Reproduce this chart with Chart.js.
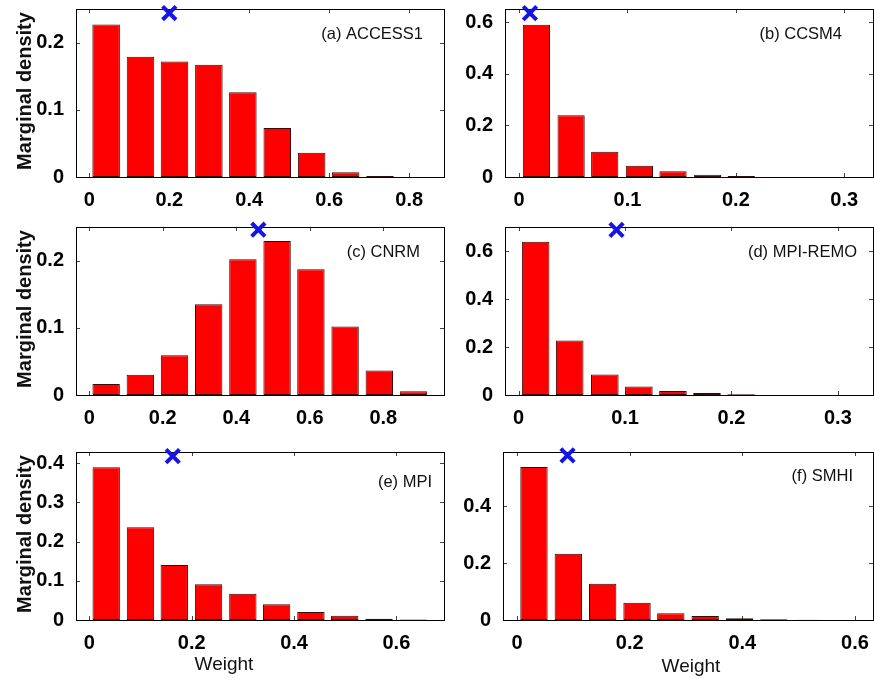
<!DOCTYPE html>
<html>
<head>
<meta charset="utf-8">
<script src="https://cdn.jsdelivr.net/npm/chart.js@4.4.0/dist/chart.umd.min.js"></script>
<style>
  html, body { margin: 0; padding: 0; background: #fff; }
  #figure { position: relative; width: 874px; height: 681px; overflow: hidden; }
  #figure canvas { position: absolute; }
</style>
</head>
<body>
<div id="figure"></div>
<script>
// histogram bin centres (weight) and marginal densities, one pair per model
const accessWeight = [0.042, 0.128, 0.213, 0.299, 0.384, 0.470, 0.556, 0.641, 0.727];
const accessDensity = [0.227, 0.179, 0.172, 0.167, 0.126, 0.073, 0.036, 0.007, 0.0015];

const ccsmWeight = [0.016, 0.048, 0.079, 0.111, 0.142, 0.174, 0.205];
const ccsmDensity = [0.591, 0.240, 0.098, 0.044, 0.022, 0.009, 0.004];

const cnrmWeight = [0.046, 0.139, 0.232, 0.325, 0.418, 0.511, 0.603, 0.696, 0.789, 0.882];
const cnrmDensity = [0.0165, 0.030, 0.059, 0.135, 0.202, 0.229, 0.187, 0.102, 0.0365, 0.0055];

const remoWeight = [0.016, 0.048, 0.081, 0.113, 0.145, 0.177, 0.209];
const remoDensity = [0.639, 0.227, 0.085, 0.035, 0.017, 0.008, 0.003];

const mpiWeight = [0.033, 0.100, 0.166, 0.233, 0.300, 0.366, 0.433, 0.499, 0.566, 0.633];
const mpiDensity = [0.3895, 0.2365, 0.140, 0.091, 0.067, 0.040, 0.0204, 0.011, 0.0033, 0.001];

const smhiWeight = [0.030, 0.091, 0.152, 0.213, 0.273, 0.334, 0.395, 0.456, 0.517];
const smhiDensity = [0.537, 0.233, 0.127, 0.061, 0.0235, 0.014, 0.006, 0.0025, 0.001];

// reference weight for each model (blue cross)
const markerWeight = [0.2, 0.01, 0.46, 0.092, 0.163, 0.0896];
const markerDensity = [0.244, 0.636, 0.246, 0.688, 0.418, 0.578];

const panelNames = ["(a) ACCESS1", "(b) CCSM4", "(c) CNRM", "(d) MPI-REMO", "(e) MPI", "(f) SMHI"];

const xTicks = [
  [0, 0.2, 0.4, 0.6, 0.8],
  [0, 0.1, 0.2, 0.3],
  [0, 0.2, 0.4, 0.6, 0.8],
  [0, 0.1, 0.2, 0.3],
  [0, 0.2, 0.4, 0.6],
  [0, 0.2, 0.4, 0.6],
];
const yTicks = [
  [0, 0.1, 0.2],
  [0, 0.2, 0.4, 0.6],
  [0, 0.1, 0.2],
  [0, 0.2, 0.4, 0.6],
  [0, 0.1, 0.2, 0.3, 0.4],
  [0, 0.2, 0.4],
];
const xRange = [
  [-0.0333, 0.887],
  [-0.013, 0.3265],
  [-0.036, 0.965],
  [-0.0128, 0.333],
  [-0.026, 0.693],
  [-0.025, 0.632],
];
const yRange = [
  [0, 0.25],
  [0, 0.652],
  [0, 0.25],
  [0, 0.70],
  [0, 0.4286],
  [0, 0.59],
];

const yTitle = "Marginal density";
const xTitle = "Weight";

const series = [
  [accessWeight, accessDensity],
  [ccsmWeight, ccsmDensity],
  [cnrmWeight, cnrmDensity],
  [remoWeight, remoDensity],
  [mpiWeight, mpiDensity],
  [smhiWeight, smhiDensity],
];

// axes boxes on the page, and where the panel texts sit
const layout = [
  { l: 76, t: 9, r: 444, b: 177, nameRight: 21, nameBase: 30 },
  { l: 505, t: 9, r: 873, b: 177, nameRight: 31, nameBase: 30 },
  { l: 76, t: 227, r: 444, b: 395, nameRight: 24, nameBase: 30 },
  { l: 505, t: 227, r: 873, b: 395, nameRight: 16, nameBase: 30 },
  { l: 76, t: 452, r: 444, b: 620, nameRight: 12, nameBase: 35, xTitleDx: -36, xTitleBase: 50 },
  { l: 503, t: 452, r: 873, b: 620, nameRight: 20, nameBase: 29, xTitleDx: 3, xTitleBase: 52 },
];

const FONT = "'Liberation Sans', Arial, Helvetica, sans-serif";
const AXIS_W = 76;
const PAD_TOP = 20;
const AXIS_H = 60;

// box, inward ticks and texts drawn like a MATLAB axes
const framePlugin = {
  id: "frame",
  beforeDatasetsDraw(chart) {
    const { ctx, chartArea: a, scales } = chart;
    ctx.save();
    ctx.lineWidth = 1;
    ctx.strokeStyle = "#444";
    const len = 4;
    ctx.beginPath();
    scales.x.ticks.forEach((t) => {
      const px = Math.round(scales.x.getPixelForValue(t.value)) + 0.5;
      ctx.moveTo(px, a.bottom);
      ctx.lineTo(px, a.bottom - len);
      ctx.moveTo(px, a.top);
      ctx.lineTo(px, a.top + len);
    });
    scales.y.ticks.forEach((t) => {
      const py = Math.round(scales.y.getPixelForValue(t.value)) + 0.5;
      ctx.moveTo(a.left, py);
      ctx.lineTo(a.left + len, py);
      ctx.moveTo(a.right, py);
      ctx.lineTo(a.right - len, py);
    });
    ctx.stroke();
    ctx.strokeStyle = "#000";
    ctx.strokeRect(a.left + 0.5, a.top + 0.5, a.right - a.left, a.bottom - a.top);
    ctx.restore();
  },
  afterDraw(chart, args, opts) {
    const { ctx, chartArea: a } = chart;
    ctx.save();
    ctx.fillStyle = "#111";
    ctx.font = "16.5px " + FONT;
    ctx.textAlign = "right";
    ctx.textBaseline = "alphabetic";
    ctx.fillText(opts.name, a.right - opts.nameRight, a.top + opts.nameBase);

    if (opts.yTitle) {
      ctx.save();
      ctx.translate(25, (a.top + a.bottom) / 2 - 2);
      ctx.rotate(-Math.PI / 2);
      ctx.font = "bold 20px " + FONT;
      ctx.textAlign = "center";
      ctx.textBaseline = "middle";
      ctx.fillText(opts.yTitle, 0, 0);
      ctx.restore();
    }
    if (opts.xTitle) {
      ctx.font = "19px " + FONT;
      ctx.textAlign = "center";
      ctx.fillText(opts.xTitle, (a.left + a.right) / 2 + opts.xTitleDx, a.bottom + opts.xTitleBase);
    }
    ctx.restore();
  },
};

const figure = document.getElementById("figure");

series.forEach(([weights, density], i) => {
  const box = layout[i];
  const canvas = document.createElement("canvas");
  const w = box.r - box.l + AXIS_W + 1;
  const h = box.b - box.t + PAD_TOP + AXIS_H;
  canvas.width = w;
  canvas.height = h;
  canvas.style.width = w + "px";
  canvas.style.height = h + "px";
  canvas.style.left = box.l - AXIS_W + "px";
  canvas.style.top = box.t - PAD_TOP + "px";
  figure.appendChild(canvas);

  const tickFont = { family: FONT, size: 20, weight: "bold" };

  new Chart(canvas.getContext("2d"), {
    type: "bar",
    data: {
      datasets: [
        {
          type: "scatter",
          data: [{ x: markerWeight[i], y: markerDensity[i] }],
          pointStyle: "crossRot",
          pointRadius: 9.5,
          pointBorderWidth: 4,
          borderColor: "#1414e6",
          backgroundColor: "#1414e6",
          clip: false,
          order: 0,
        },
        {
          type: "bar",
          data: weights.map((x, k) => ({ x: x, y: density[k] })),
          backgroundColor: "#ff0000",
          borderColor: "#3a0a0a",
          borderWidth: 1,
          borderSkipped: false,
          categoryPercentage: 1,
          barPercentage: 0.81,
          order: 1,
        },
      ],
    },
    options: {
      responsive: false,
      animation: false,
      devicePixelRatio: 1,
      layout: { autoPadding: false, padding: { top: PAD_TOP, right: 1, bottom: 0, left: 0 } },
      plugins: {
        legend: { display: false },
        tooltip: { enabled: false },
        frame: {
          name: panelNames[i],
          nameRight: box.nameRight,
          nameBase: box.nameBase,
          yTitle: i % 2 === 0 ? yTitle : null,
          xTitle: i >= 4 ? xTitle : null,
          xTitleDx: box.xTitleDx || 0,
          xTitleBase: box.xTitleBase || 0,
        },
      },
      scales: {
        x: {
          type: "linear",
          min: xRange[i][0],
          max: xRange[i][1],
          offset: false,
          grid: { display: false, offset: false },
          border: { display: false },
          afterBuildTicks: (s) => {
            s.ticks = xTicks[i].map((v) => ({ value: v }));
          },
          afterFit: (s) => {
            s.height = AXIS_H;
          },
          ticks: {
            autoSkip: false,
            maxRotation: 0,
            padding: 3,
            color: "#000",
            font: tickFont,
            callback: (v) => String(v),
          },
        },
        y: {
          type: "linear",
          min: yRange[i][0],
          max: yRange[i][1],
          grid: { display: false },
          border: { display: false },
          afterBuildTicks: (s) => {
            s.ticks = yTicks[i].map((v) => ({ value: v }));
          },
          afterFit: (s) => {
            s.width = AXIS_W;
          },
          ticks: {
            autoSkip: false,
            padding: 4,
            color: "#000",
            font: tickFont,
            callback: (v) => String(v),
          },
        },
      },
    },
    plugins: [framePlugin],
  });
});
</script>
</body>
</html>
